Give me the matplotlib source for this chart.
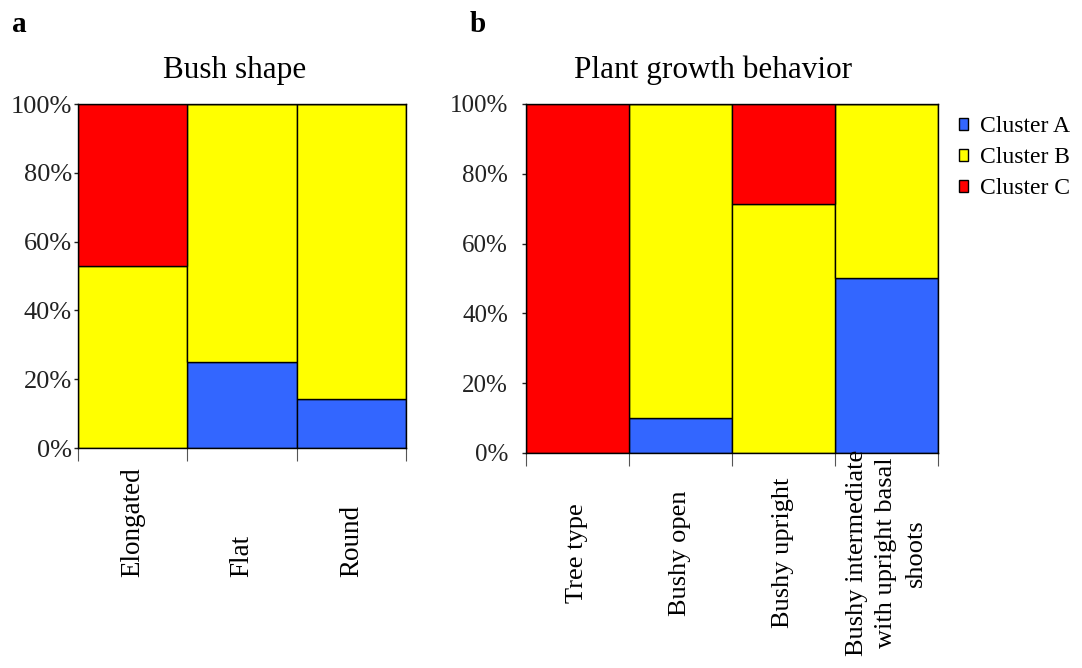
import numpy as np
import matplotlib
matplotlib.use("Agg")
import matplotlib.pyplot as plt

plt.rcParams['font.family'] = ['Liberation Serif', 'DejaVu Serif']

# bush shape panel (percent)
bush_cats = ["Elongated", "Flat", "Round"]
bush_a = [0, 25, 14.3]
bush_b = [52.9, 75, 85.7]
bush_c = [47.1, 0, 0]

# plant growth behaviour panel (percent)
growth_cats = ["Tree type", "Bushy open", "Bushy upright",
               "Bushy intermediate\nwith upright basal\nshoots"]
growth_a = [0, 10, 0, 50]
growth_b = [0, 90, 71.4, 50]
growth_c = [100, 0, 28.6, 0]

cluster_names = ["Cluster A", "Cluster B", "Cluster C"]
colors = ["#3366FF", "#FFFF00", "#FF0000"]
yticks = [0, 20, 40, 60, 80, 100]


def stacked(ax, cats, a, b, c, tick_fs, tick_pad):
    x = np.arange(len(cats))
    bottom = np.zeros(len(cats))
    bars = []
    for vals, col, name in zip([a, b, c], colors, cluster_names):
        vals = np.array(vals, dtype=float)
        bars.append(ax.bar(x, vals, width=1.0, bottom=bottom, color=col,
                           edgecolor="black", linewidth=1.0, label=name))
        bottom += vals
    ax.set_xlim(-0.5, len(cats) - 0.5)
    ax.set_ylim(0, 100)
    ax.set_yticks(yticks)
    ax.set_yticklabels([f"{t}%" for t in yticks], fontsize=tick_fs)
    ax.tick_params(axis="y", length=3, width=1, pad=tick_pad, colors="#222222")
    # ticks at category boundaries, no labels
    ax.set_xticks(np.arange(len(cats) + 1) - 0.5)
    ax.set_xticklabels([])
    ax.tick_params(axis="x", length=9, width=0.8, color="#555555")
    for s in ax.spines.values():
        s.set_linewidth(1.0)
    return x, bars


fig = plt.figure(figsize=(10.82, 6.68), dpi=100)

ax1 = fig.add_axes([0.0721, 0.3293, 0.3031, 0.515])
x1, _ = stacked(ax1, bush_cats, bush_a, bush_b, bush_c, 19, 1.5)
ax1.set_title("Bush shape", fontsize=22.5, pad=19, x=0.479)
for xi, lab in zip(x1, bush_cats):
    ax1.text(xi, -0.375, lab, rotation=90, ha="center", va="bottom",
             fontsize=19.5, transform=ax1.get_xaxis_transform())

ax2 = fig.add_axes([0.4861, 0.3219, 0.3808, 0.5225])
x2, bars = stacked(ax2, growth_cats, growth_a, growth_b, growth_c, 18, 10)
ax2.set_title("Plant growth behavior", fontsize=22.5, pad=19, x=0.454)
for xi, lab in zip(x2, growth_cats):
    ax2.text(xi, -0.2865, lab, rotation=90, ha="center", va="center",
             multialignment="center", fontsize=19, linespacing=1.45,
             transform=ax2.get_xaxis_transform())

leg = fig.legend(handles=bars, labels=cluster_names, loc="upper left",
                 bbox_to_anchor=(0.878, 0.84), frameon=False, fontsize=17,
                 handlelength=0.35, handleheight=0.4, handletextpad=0.5,
                 labelspacing=0.42, borderaxespad=0)

fig.text(0.011, 0.952, "a", fontsize=21, fontweight="bold")
fig.text(0.434, 0.952, "b", fontsize=21, fontweight="bold")

fig.savefig("out.png", dpi=100)
